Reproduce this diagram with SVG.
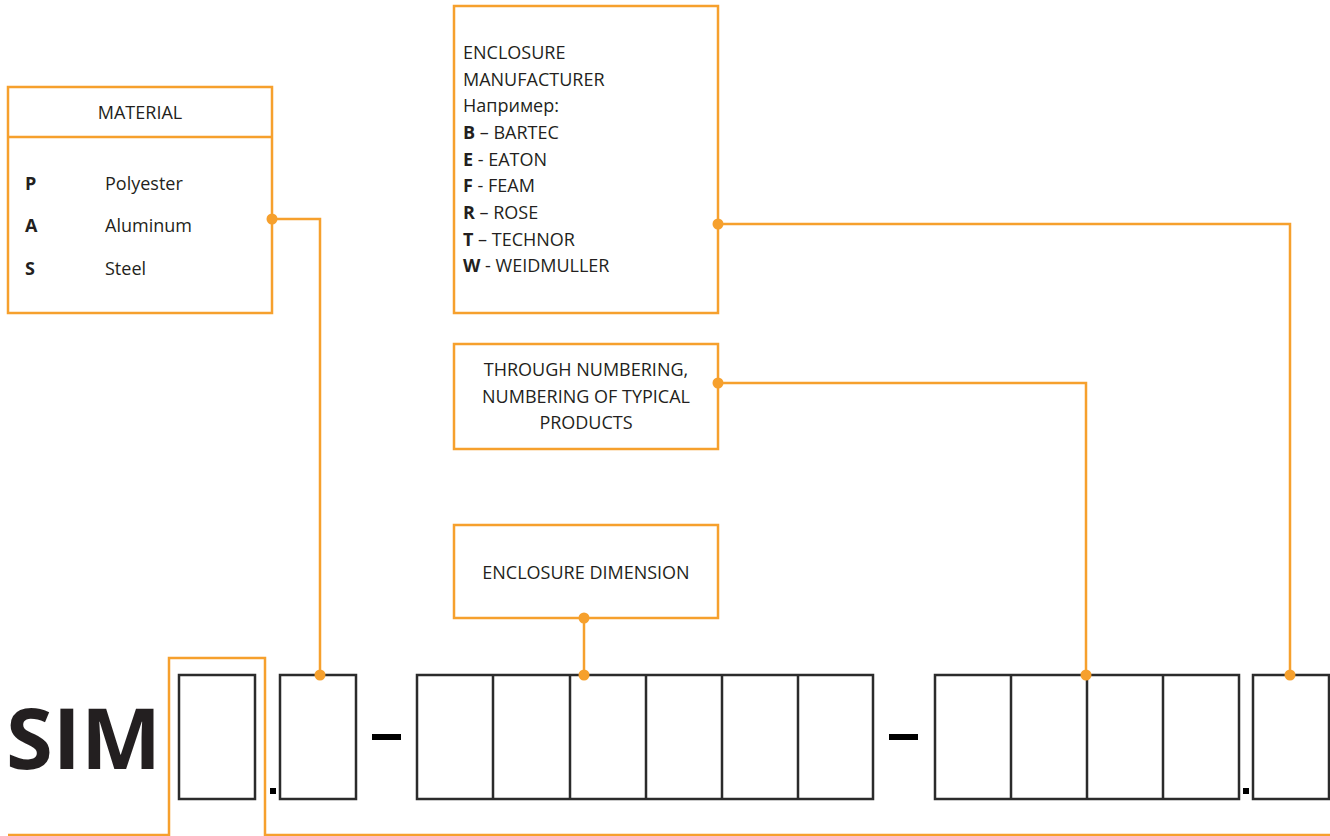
<svg xmlns="http://www.w3.org/2000/svg" width="1330" height="836" viewBox="0 0 1330 836">
<style>
.ob{fill:#fff;stroke:#F6A02D;stroke-width:2.5}
.ln{fill:none;stroke:#F6A02D;stroke-width:2.5}
.dot{fill:#F6A02D}
.cell{fill:#fff;stroke:#2b2b2b;stroke-width:2.5}
.t{font-family:"Open Sans","Noto Sans",sans-serif;font-size:18px;fill:#231f20}
.c{text-anchor:middle}
.b{font-weight:bold}
</style>
<rect width="1330" height="836" fill="#fff"/>
<g id="connectors">
<path class="ln" d="M8,835 H169 V658 H265 V835 H1330"/>
<path class="ln" d="M272,219 H320 V675"/>
<path class="ln" d="M718,224 H1290 V675"/>
<path class="ln" d="M718,383 H1086 V675"/>
<path class="ln" d="M584,618 V675"/>
</g>
<g id="material">
<rect class="ob" x="8" y="87" width="264" height="226"/>
<line class="ln" x1="8" y1="137" x2="272" y2="137"/>
<text class="t c" x="140" y="119">MATERIAL</text>
<text class="t b" x="25" y="190">P</text>
<text class="t" x="105" y="190">Polyester</text>
<text class="t b" x="25" y="232">A</text>
<text class="t" x="105" y="232">Aluminum</text>
<text class="t b" x="25" y="275">S</text>
<text class="t" x="105" y="275">Steel</text>
</g>
<g id="manufacturer">
<rect class="ob" x="454" y="6" width="264" height="307"/>
<text class="t" x="463" y="59">ENCLOSURE</text>
<text class="t" x="463" y="86">MANUFACTURER</text>
<text class="t" x="463" y="112">Например:</text>
<text class="t" x="463" y="139"><tspan class="b">B</tspan> – BARTEC</text>
<text class="t" x="463" y="166"><tspan class="b">E</tspan> - EATON</text>
<text class="t" x="463" y="192"><tspan class="b">F</tspan> - FEAM</text>
<text class="t" x="463" y="219"><tspan class="b">R</tspan> – ROSE</text>
<text class="t" x="463" y="246"><tspan class="b">T</tspan> – TECHNOR</text>
<text class="t" x="463" y="272"><tspan class="b">W</tspan> - WEIDMULLER</text>
</g>
<g id="numbering">
<rect class="ob" x="454" y="344" width="264" height="105"/>
<text class="t c" x="586" y="376">THROUGH NUMBERING,</text>
<text class="t c" x="586" y="403">NUMBERING OF TYPICAL</text>
<text class="t c" x="586" y="429">PRODUCTS</text>
</g>
<g id="dimension">
<rect class="ob" x="454" y="525" width="264" height="93"/>
<text class="t c" x="586" y="579">ENCLOSURE DIMENSION</text>
</g>
<g id="code">
<text x="6" y="769" style="font-family:'Open Sans','Noto Sans',sans-serif;font-weight:bold;font-size:85px;fill:#231f20">SIM</text>
<rect class="cell" x="179" y="675" width="76" height="124"/>
<rect x="270" y="788" width="6" height="6" fill="#000"/>
<rect class="cell" x="280" y="675" width="76" height="124"/>
<rect x="372" y="734" width="29" height="6" fill="#000"/>
<rect class="cell" x="417" y="675" width="456" height="124"/>
<path class="cell" d="M493,675V799M570,675V799M646,675V799M722,675V799M798,675V799"/>
<rect x="889" y="734" width="29" height="6" fill="#000"/>
<rect class="cell" x="935" y="675" width="304" height="124"/>
<path class="cell" d="M1011,675V799M1087,675V799M1163,675V799"/>
<rect x="1243" y="788" width="6" height="6" fill="#000"/>
<rect class="cell" x="1253" y="675" width="76" height="124"/>
</g>
<g id="dots">
<circle class="dot" cx="272" cy="219" r="5.5"/>
<circle class="dot" cx="320" cy="675" r="5.5"/>
<circle class="dot" cx="718" cy="224" r="5.5"/>
<circle class="dot" cx="1290" cy="675" r="5.5"/>
<circle class="dot" cx="718" cy="383" r="5.5"/>
<circle class="dot" cx="1086" cy="675" r="5.5"/>
<circle class="dot" cx="584" cy="618" r="5.5"/>
<circle class="dot" cx="584" cy="675" r="5.5"/>
</g>
</svg>
